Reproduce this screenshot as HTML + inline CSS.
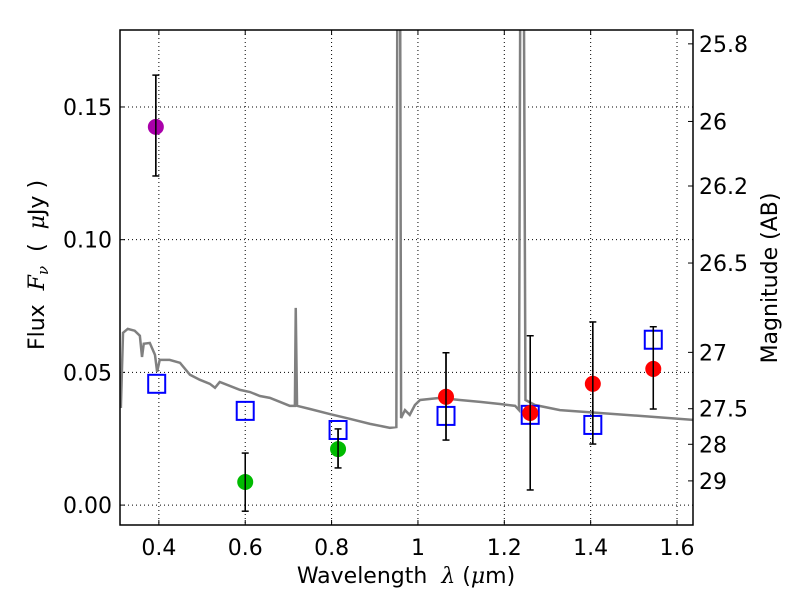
<!DOCTYPE html>
<html><head><meta charset="utf-8"><style>
body{margin:0;background:#fff}
svg{font-family:"DejaVu Sans","Liberation Sans",sans-serif}
</style></head><body>
<svg id="c" width="800" height="600" xmlns="http://www.w3.org/2000/svg"></svg>
<script>
const specLam=[0.312,0.317,0.328,0.344,0.356,0.361,0.365,0.379,0.391,0.396,0.402,0.425,0.449,0.472,0.495,0.518,0.530,0.541,0.588,0.611,0.634,0.657,0.680,0.703,0.715,0.717,0.720,0.750,0.796,0.842,0.889,0.935,0.950,0.953,0.958,0.961,0.970,0.981,0.993,1.005,1.051,1.097,1.144,1.19,1.225,1.234,1.238,1.244,1.249,1.271,1.329,1.421,1.514,1.637];
const specFlux=[0.0366,0.0649,0.0664,0.0657,0.0638,0.0558,0.0608,0.0611,0.0566,0.0502,0.0547,0.0547,0.0536,0.0491,0.0472,0.0457,0.0442,0.0464,0.0434,0.0426,0.0411,0.0404,0.0389,0.0374,0.0374,0.0743,0.0374,0.0362,0.0343,0.0325,0.0306,0.0291,0.0294,0.25,0.25,0.0328,0.0358,0.034,0.0377,0.0396,0.0404,0.0396,0.0389,0.0381,0.0374,0.0358,0.25,0.25,0.0396,0.0377,0.0358,0.0347,0.0336,0.0321];
const sqLam=[0.395,0.6,0.815,1.065,1.26,1.405,1.545];
const sqFlux=[0.0457,0.0355,0.0283,0.0336,0.034,0.0302,0.0623];
const ptLam=[0.393,0.6,0.815,1.065,1.26,1.405,1.545];
const ptFlux=[0.1425,0.0087,0.0211,0.0408,0.0347,0.0457,0.0513];
const ptHi=[0.162,0.0196,0.0287,0.0574,0.0638,0.069,0.0672];
const ptLo=[0.124,-0.0023,0.014,0.0245,0.0057,0.023,0.0362];
const ptColor=['#aa00aa','#00bb00','#00bb00','#ff0000','#ff0000','#ff0000','#ff0000'];
const xTicks=[0.4,0.6,0.8,1,1.2,1.4,1.6];
const xTickLabels=['0.4','0.6','0.8','1','1.2','1.4','1.6'];
const yTicks=[0,0.05,0.10,0.15];
const yTickLabels=['0.00','0.05','0.10','0.15'];
const magTicks=[25.8,26,26.2,26.5,27,27.5,28,29];

const L=120,R=693,T=30,B=525,X0=0.31,X1=1.637,Y0=-0.0075,Y1=0.179;
const sx=v=>L+(v-X0)/(X1-X0)*(R-L);
const sy=v=>B-(v-Y0)/(Y1-Y0)*(B-T);
const svg=document.getElementById('c');
const NS='http://www.w3.org/2000/svg';
function mk(tag,attrs,parent){const e=document.createElementNS(NS,tag);for(const k in attrs)e.setAttribute(k,attrs[k]);(parent||svg).appendChild(e);return e;}
const defs=mk('defs',{});const cp=mk('clipPath',{id:'clip'},defs);mk('rect',{x:L,y:T,width:R-L,height:B-T},cp);
xTicks.forEach((v,i)=>{
 const g=mk('line',{x1:sx(v),x2:sx(v),y1:T,y2:B,stroke:'#000','stroke-dasharray':'1,3','stroke-width':1});
 
 
 mk('line',{x1:sx(v),x2:sx(v),y1:B,y2:B-5,stroke:'#000'});mk('line',{x1:sx(v),x2:sx(v),y1:T,y2:T+5,stroke:'#000'});
 const t=mk('text',{x:sx(v),y:B+30,'text-anchor':'middle','font-size':22});t.textContent=xTickLabels[i];
 
 
});
yTicks.forEach((v,i)=>{
 const g=mk('line',{x1:L,x2:R,y1:sy(v),y2:sy(v),stroke:'#000','stroke-dasharray':'1,3','stroke-width':1});
 
 
 mk('line',{x1:L,x2:L+5,y1:sy(v),y2:sy(v),stroke:'#000'});
 const t=mk('text',{x:L-8,y:sy(v)+8,'text-anchor':'end','font-size':22});t.textContent=yTickLabels[i];
 
 
});
magTicks.forEach(m=>{
 const f=Math.pow(10,(23.9-m)/2.5);const y=sy(f);
 mk('line',{x1:R-5,x2:R,y1:y,y2:y,stroke:'#000'});
 const t=mk('text',{x:R+6,y:y+8,'font-size':22});t.textContent=String(m);
 
 
});
const pl=mk('polyline',{points:specLam.map((v,i)=>sx(v)+','+sy(specFlux[i])).join(' '),fill:'none',stroke:'#808080','stroke-width':2.5,'clip-path':'url(#clip)'});


sqLam.forEach((v,i)=>{
 const r=mk('rect',{x:sx(v)-8.5,y:sy(sqFlux[i])-9,width:17,height:18,fill:'none',stroke:'#0000ff','stroke-width':2});
 
 
});
ptLam.forEach((v,i)=>{
 const x=sx(v);
 const e=mk('line',{x1:x,x2:x,y1:sy(ptHi[i]),y2:sy(ptLo[i]),stroke:'#000','stroke-width':1.5});
 
 
 [ptHi[i],ptLo[i]].forEach(q=>mk('line',{x1:x-3.5,x2:x+3.5,y1:sy(q),y2:sy(q),stroke:'#000','stroke-width':1.5}));
 const c=mk('circle',{cx:x,cy:sy(ptFlux[i]),r:8,fill:ptColor[i]});
 
 
 mk('line',{x1:x,x2:x,y1:sy(ptHi[i]),y2:sy(ptLo[i]),stroke:'#000','stroke-width':1.5});
});
const fr=mk('rect',{x:L,y:T,width:R-L,height:B-T,fill:'none',stroke:'#000','stroke-width':1.5});


</script>
<svg style="position:absolute;left:0;top:0" width="800" height="600" xmlns="http://www.w3.org/2000/svg" font-family="DejaVu Sans, Liberation Sans, sans-serif">
<text x="406" y="583" text-anchor="middle" font-size="22">Wavelength&#160;&#160;<tspan font-family="DejaVu Serif, serif" font-style="italic">λ</tspan>&#160;(<tspan font-family="DejaVu Serif, serif" font-style="italic">μ</tspan>m)</text>
<text transform="translate(44,265) rotate(-90)" text-anchor="middle" font-size="22">Flux&#160;&#160;<tspan font-family="DejaVu Serif, serif" font-style="italic">F<tspan font-size="15" dy="4">ν</tspan></tspan><tspan dy="-4">&#160;&#160;(&#160;&#160;</tspan><tspan font-family="DejaVu Serif, serif" font-style="italic">μ</tspan>Jy&#160;)</text>
<text transform="translate(777,278) rotate(-90)" text-anchor="middle" font-size="22">Magnitude (AB)</text>
</svg>
</body></html>
